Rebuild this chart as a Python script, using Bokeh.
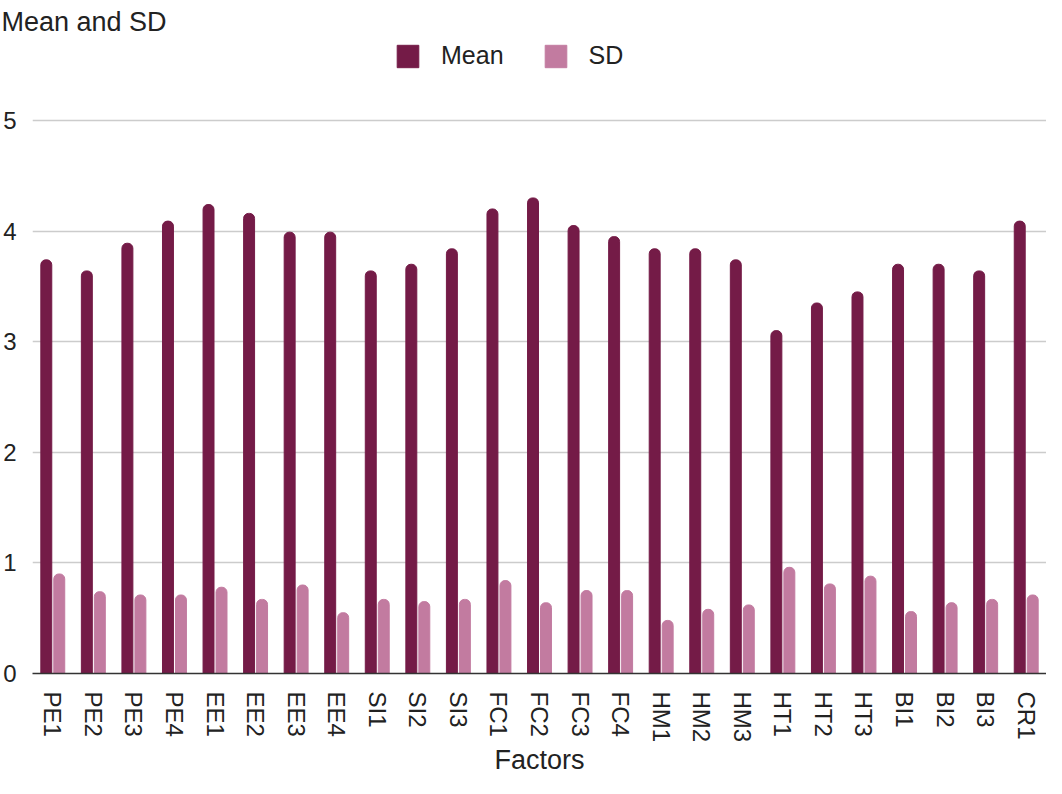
from bokeh.plotting import figure
from bokeh.models import ColumnDataSource, Range1d, FixedTicker, Legend, LegendItem
from bokeh.transform import dodge
from bokeh.embed import file_html
from bokeh.resources import INLINE

factors = ["PE1", "PE2", "PE3", "PE4", "EE1", "EE2", "EE3", "EE4", "SI1", "SI2", "SI3",
           "FC1", "FC2", "FC3", "FC4", "HM1", "HM2", "HM3", "HT1", "HT2", "HT3",
           "BI1", "BI2", "BI3", "CR1"]
mean = [3.74, 3.64, 3.89, 4.09, 4.24, 4.16, 3.99, 3.99, 3.64, 3.70, 3.84,
        4.20, 4.30, 4.05, 3.95, 3.84, 3.84, 3.74, 3.10, 3.35, 3.45,
        3.70, 3.70, 3.64, 4.09]
sd = [0.90, 0.74, 0.71, 0.71, 0.78, 0.67, 0.80, 0.55, 0.67, 0.65, 0.67,
      0.84, 0.64, 0.75, 0.75, 0.48, 0.58, 0.62, 0.96, 0.81, 0.88,
      0.56, 0.64, 0.67, 0.71]
y_ticks = [0, 1, 2, 3, 4, 5]

MEAN_COLOR = "#741b47"
SD_COLOR = "#c27ba0"
FONT = "Liberation Sans"

src = ColumnDataSource(dict(f=factors, mean=mean, sd=sd))

p = figure(x_range=factors, y_range=Range1d(0, 5.723), width=1046, height=778,
           output_backend="svg", toolbar_location=None,
           title="Mean and SD",
           min_border_left=27, min_border_right=0, min_border_top=40, min_border_bottom=105)
p.outline_line_color = None
p.xgrid.grid_line_color = None
p.x_range.range_padding = 0

p.title.text_font = FONT
p.title.text_font_size = "27px"
p.title.text_font_style = "normal"
p.title.text_color = "#222222"
p.title.align = "left"
p.title.offset = -31
p.title.standoff = 7

r1 = p.vbar(x=dodge("f", -0.16, range=p.x_range), top="mean", width=0.27, source=src,
            fill_color=MEAN_COLOR, line_color=MEAN_COLOR, border_radius=(5, 5, 0, 0))
r2 = p.vbar(x=dodge("f", 0.16, range=p.x_range), top="sd", width=0.27, source=src,
            fill_color=SD_COLOR, line_color=SD_COLOR, border_radius=(5, 5, 0, 0))

p.yaxis.ticker = FixedTicker(ticks=y_ticks)
p.yaxis.axis_line_color = None
p.yaxis.major_tick_line_color = None
p.yaxis.minor_tick_line_color = None
p.yaxis.major_label_standoff = 10
p.yaxis.major_label_text_font = FONT
p.yaxis.major_label_text_font_size = "24px"
p.yaxis.major_label_text_color = "#222222"
p.ygrid.grid_line_color = "#cccccc"
p.ygrid.grid_line_width = 1.5

p.xaxis.axis_line_color = "#333333"
p.xaxis.axis_line_width = 1.5
p.xaxis.major_tick_line_color = None
p.xaxis.minor_tick_line_color = None
p.xaxis.major_label_orientation = "vertical"
p.xaxis.major_label_standoff = 12
p.xaxis.major_label_text_font = FONT
p.xaxis.major_label_text_font_size = "24px"
p.xaxis.major_label_text_color = "#222222"
p.xaxis.axis_label = "Factors"
p.xaxis.axis_label_text_font = FONT
p.xaxis.axis_label_text_font_style = "normal"
p.xaxis.axis_label_text_font_size = "27px"
p.xaxis.axis_label_text_color = "#222222"
p.xaxis.axis_label_standoff = 0

legend = Legend(items=[LegendItem(label="Mean", renderers=[r1]),
                       LegendItem(label="SD", renderers=[r2])],
                location=(362, 603), orientation="horizontal",
                glyph_width=27, glyph_height=28, label_standoff=20, spacing=38,
                padding=0, margin=0, border_line_alpha=0, background_fill_alpha=0,
                label_text_font=FONT, label_text_font_size="25px", label_text_color="#222222")
p.add_layout(legend)

open("out.html", "w").write(file_html(p, INLINE))
